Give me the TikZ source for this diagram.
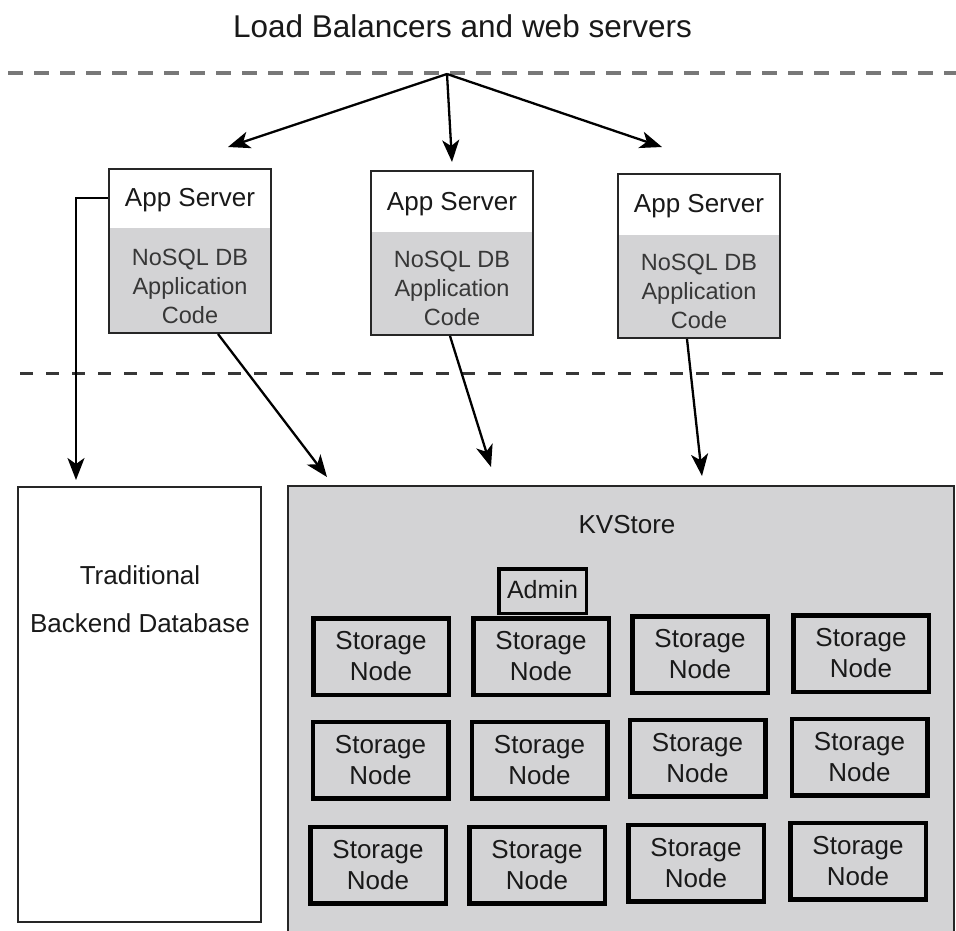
\documentclass[tikz,border=0pt]{standalone}
\usepackage{fontspec}
\setmainfont{Liberation Sans}
\usetikzlibrary{arrows.meta,calc}
\definecolor{boxgray}{RGB}{211,211,213}
\definecolor{codegray}{RGB}{55,55,55}
\definecolor{dashdark}{RGB}{55,55,55}
\definecolor{dashlight}{RGB}{120,120,120}
\begin{document}
\begin{tikzpicture}[x=1pt,y=-1pt,
  dashtop/.style={draw=dashlight, line width=4pt, dash pattern=on 15pt off 11pt},
  dashmid/.style={draw=dashdark, line width=3pt, dash pattern=on 13pt off 13pt},
  arr/.style={draw=black, line width=2.3pt, -{Stealth[length=22pt,width=17pt,inset=6pt]}},
  appbox/.style={draw=black!85, line width=2pt, minimum width=162pt, minimum height=164pt, inner sep=0pt},
  apptitle/.style={font=\fontsize{26}{31}\selectfont, inner sep=0pt, anchor=base, text=black!90},
  appcode/.style={font=\fontsize{23.5}{29}\selectfont, text=codegray, align=center, inner sep=0pt},
  snode/.style={draw=black, line width=4.5pt, fill=boxgray, minimum width=135.5pt, minimum height=76.5pt, inner sep=0pt, align=center, font=\fontsize{26}{31}\selectfont, text=black!90},
  adminbox/.style={draw=black, line width=3.5pt, fill=boxgray, minimum width=87.5pt, minimum height=44.5pt, inner sep=0pt},
  bigbox/.style={draw=black!85, line width=2pt, inner sep=0pt},
  lbl/.style={font=\fontsize{26}{31}\selectfont, inner sep=0pt, text=black!90}
]
\useasboundingbox (0,0) rectangle (956,930);
\fill[white] (0,0) rectangle (956,930);

% title
\node[font=\fontsize{31.5}{36}\selectfont, inner sep=0pt, anchor=base, text=black!90] (title) at (462.5,37) {Load Balancers and web servers};

% dashed separators
\draw[dashtop] (8,73) -- (956,73);
\draw[dashmid] (20,373) -- (956,373);

% app server boxes
\fill[boxgray] (109,228) rectangle (271,333);
\fill[boxgray] (372,232) rectangle (532,335);
\fill[boxgray] (618,235) rectangle (780,338);
\node[appbox] (a1) at (190,251) {};
\node[appbox] (a2) at (452,253) {};
\node[appbox] (a3) at (699,256) {};
\node[apptitle] (t1) at (190,206) {App Server};
\node[apptitle] (t2) at (452,210) {App Server};
\node[apptitle] (t3) at (699,212) {App Server};
\node[appcode] (c1) at (190,286.5) {NoSQL DB\\Application\\Code};
\node[appcode] (c2) at (452,288.5) {NoSQL DB\\Application\\Code};
\node[appcode] (c3) at (699,291.5) {NoSQL DB\\Application\\Code};

% lower boxes
\node[bigbox, minimum width=243pt, minimum height=435pt] (trad) at (139.5,704.5) {};
\node[lbl, align=center, font=\fontsize{26}{48}\selectfont] (tradtxt) at (140,599.5) {Traditional\\Backend Database};
\node[bigbox, fill=boxgray, minimum width=666pt, minimum height=450pt] (kv) at (621,711) {};
\node[lbl, anchor=base] (kvtxt) at (627,533) {KVStore};

% storage nodes
\node[snode] (s11) at (381,656.5) {Storage\\Node};
\node[snode] (s12) at (541,656.5) {Storage\\Node};
\node[snode] (s13) at (700,654.5) {Storage\\Node};
\node[snode] (s14) at (861,653.5) {Storage\\Node};
\node[snode] (s21) at (380.5,760) {Storage\\Node};
\node[snode] (s22) at (539.5,760) {Storage\\Node};
\node[snode] (s23) at (697.5,758) {Storage\\Node};
\node[snode] (s24) at (859.5,757) {Storage\\Node};
\node[snode] (s31) at (378,865) {Storage\\Node};
\node[snode] (s32) at (537,865) {Storage\\Node};
\node[snode] (s33) at (696,863) {Storage\\Node};
\node[snode] (s34) at (858,861) {Storage\\Node};
\node[adminbox] (admin) at (542.5,591) {};
\node[lbl, anchor=base, font=\fontsize{25}{30}\selectfont] (admintxt) at (542.5,598) {Admin};

% arrows from load balancer
\coordinate (lb) at (447,74);
\draw[arr] (lb) -- ($(a1.north)+(38,-21)$);
\draw[arr] (lb) -- ($(a2.north)+(0,-8)$);
\draw[arr] (lb) -- ($(a3.north)+(-37,-26)$);

% arrows to storage
\draw[arr] ($(a1.south)+(28,0)$) -- ($(kv.north west)+(40,-8)$);
\draw[arr] ($(a2.south)+(-2,0)$) -- ($(kv.north west)+(204,-18)$);
\draw[arr] ($(a3.south)+(-12,0)$) -- ($(kv.north west)+(415,-9)$);
\draw[arr] ($(a1.north west)+(0,30)$) -| ($(trad.north west)+(59,-6)$);
\end{tikzpicture}
\end{document}
